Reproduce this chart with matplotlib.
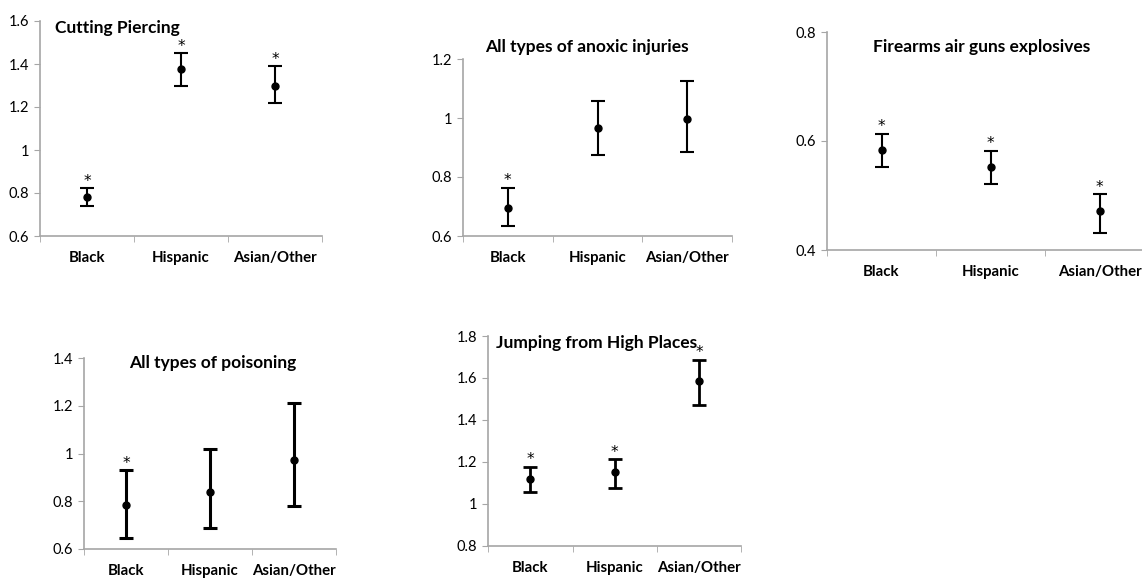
import matplotlib.pyplot as plt
import numpy as np

plt.rcParams["font.family"] = ["Lato", "DejaVu Sans"]

categories = ["Black", "Hispanic", "Asian/Other"]

cut_mean = [0.78, 1.377, 1.30]
cut_low = [0.74, 1.298, 1.22]
cut_high = [0.823, 1.45, 1.389]
cut_sig = [True, True, True]

anox_mean = [0.696, 0.967, 0.996]
anox_low = [0.634, 0.875, 0.885]
anox_high = [0.764, 1.059, 1.127]
anox_sig = [True, False, False]

fire_mean = [0.583, 0.553, 0.472]
fire_low = [0.552, 0.522, 0.431]
fire_high = [0.613, 0.582, 0.502]
fire_sig = [True, True, True]

pois_mean = [0.784, 0.840, 0.973]
pois_low = [0.647, 0.687, 0.780]
pois_high = [0.931, 1.018, 1.212]
pois_sig = [True, False, False]

jump_mean = [1.118, 1.150, 1.585]
jump_low = [1.055, 1.077, 1.469]
jump_high = [1.177, 1.213, 1.686]
jump_sig = [True, True, True]

W, H = 1142, 578
fig = plt.figure(figsize=(W / 100, H / 100), dpi=100)
GRAY = "#a6a6a6"


def px_axes(x0, x1, ytop, ybot):
    return fig.add_axes([x0 / W, 1 - ybot / H, (x1 - x0) / W, (ybot - ytop) / H])


def panel(ax, title, mean, low, high, sig, ylim, yticks, ylabels, tpos, tha, lw):
    x = np.arange(len(categories))
    mean = np.array(mean)
    err = [mean - np.array(low), np.array(high) - mean]
    ax.errorbar(x, mean, yerr=err, fmt="o", color="black", ms=5,
                elinewidth=lw, capsize=5, capthick=lw)
    for xi, hi, s in zip(x, high, sig):
        if s:
            ax.annotate("*", (xi, hi), xytext=(0, 5), textcoords="offset points",
                        ha="center", va="center", fontsize=11,
                        family=["DejaVu Sans"])
    ax.set_xlim(-0.5, len(categories) - 0.5)
    ax.set_ylim(*ylim)
    ax.set_yticks(yticks)
    ax.set_yticklabels(ylabels, fontsize=10.5)
    ax.set_xticks(x)
    ax.set_xticklabels(categories, fontsize=10.8, fontweight="bold")
    ax.set_xticks(np.arange(-0.5, len(categories)), minor=True)
    ax.tick_params(axis="x", which="major", length=0, pad=11)
    ax.tick_params(axis="x", which="minor", length=4, color=GRAY, direction="out")
    ax.tick_params(axis="y", length=4, color=GRAY, direction="out", pad=4)
    for side in ["top", "right"]:
        ax.spines[side].set_visible(False)
    for side in ["left", "bottom"]:
        ax.spines[side].set_color(GRAY)
        ax.spines[side].set_linewidth(1.2)
    ax.text(tpos[0], tpos[1], title, transform=ax.transAxes, ha=tha, va="center",
            fontsize=12.5, fontweight="bold", clip_on=False)


ax1 = px_axes(40, 322, 21, 236)
panel(ax1, "Cutting Piercing", cut_mean, cut_low, cut_high, cut_sig,
      (0.6, 1.6), [0.6, 0.8, 1.0, 1.2, 1.4, 1.6], ["0.6", "0.8", "1", "1.2", "1.4", "1.6"],
      (0.053, 0.967), "left", 1.5)

ax2 = px_axes(463, 732, 59, 236)
panel(ax2, "All types of anoxic injuries", anox_mean, anox_low, anox_high, anox_sig,
      (0.6, 1.2), [0.6, 0.8, 1.0, 1.2], ["0.6", "0.8", "1", "1.2"],
      (0.461, 1.068), "center", 1.5)

ax3 = px_axes(827, 1154, 32, 250)
panel(ax3, "Firearms air guns explosives", fire_mean, fire_low, fire_high, fire_sig,
      (0.4, 0.8), [0.4, 0.6, 0.8], ["0.4", "0.6", "0.8"],
      (0.474, 0.931), "center", 1.5)

ax4 = px_axes(84, 336, 358, 549)
panel(ax4, "All types of poisoning", pois_mean, pois_low, pois_high, pois_sig,
      (0.6, 1.4), [0.6, 0.8, 1.0, 1.2, 1.4], ["0.6", "0.8", "1", "1.2", "1.4"],
      (0.512, 0.974), "center", 2.2)

ax5 = px_axes(488, 741.5, 336, 545.7)
panel(ax5, "Jumping from High Places", jump_mean, jump_low, jump_high, jump_sig,
      (0.8, 1.8), [0.8, 1.0, 1.2, 1.4, 1.6, 1.8], ["0.8", "1", "1.2", "1.4", "1.6", "1.8"],
      (0.032, 0.967), "left", 2.0)

fig.savefig("out.png", dpi=100, facecolor="white")
